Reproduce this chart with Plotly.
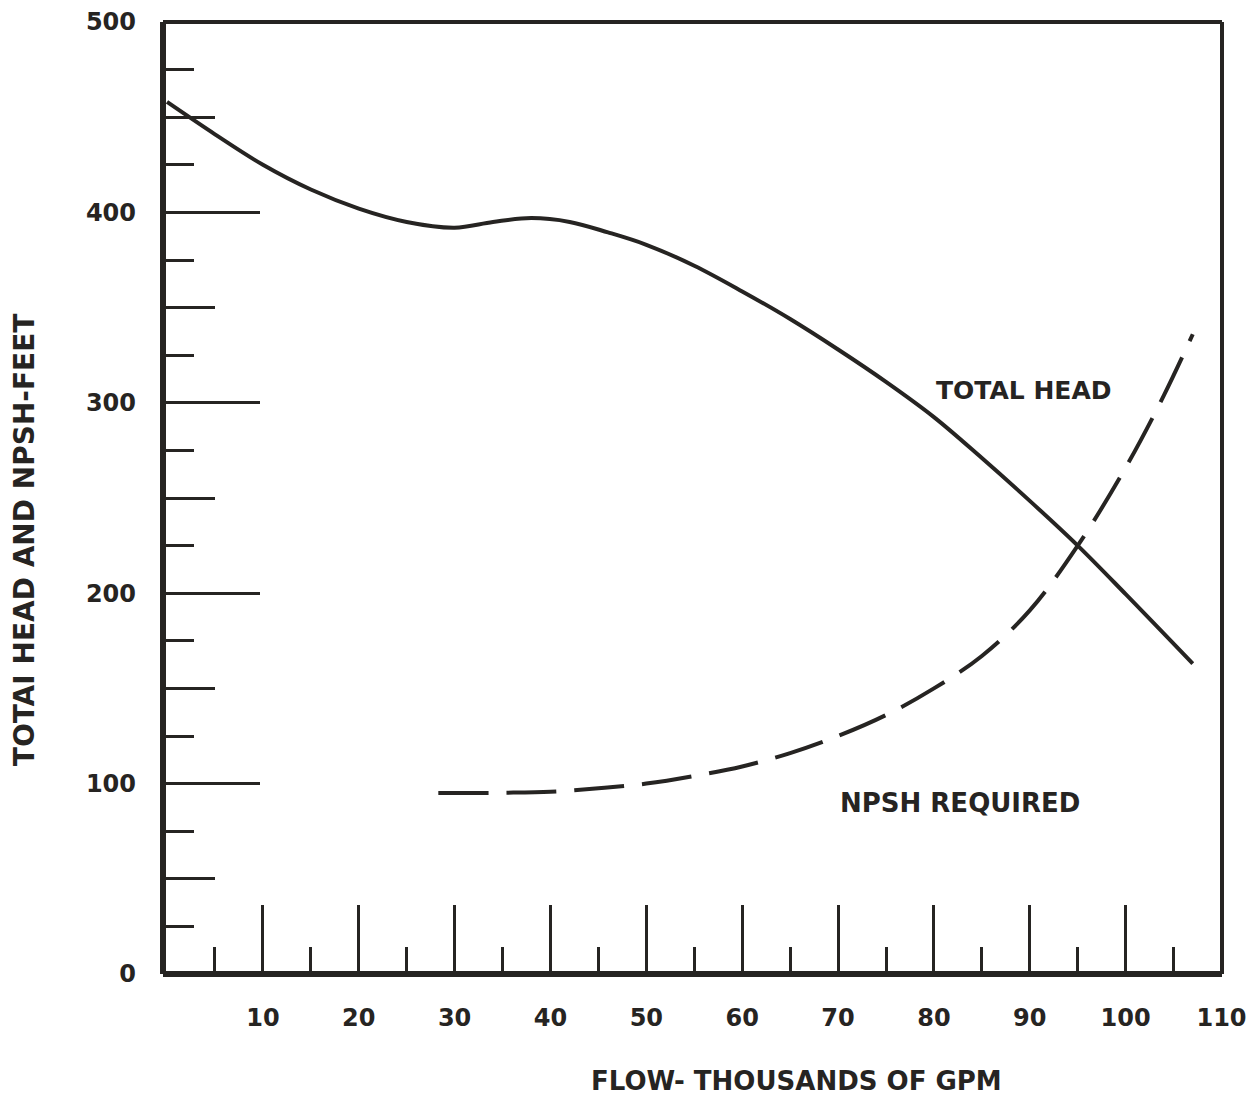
import plotly.graph_objects as go

# ---- data ----
head_flow = [0, 5, 10, 15, 20, 25, 30, 34, 38, 42, 46, 50, 55, 60, 65, 70, 75, 80, 85, 90, 95, 100, 107]
head_ft = [458, 441, 425, 412, 402, 395, 392, 395, 397, 395, 389.5, 383, 372, 358.5, 344, 328, 311, 292.5, 271, 248.5, 225, 199.5, 163]

npsh_flow = [28.3, 35, 40, 45, 50, 55, 60, 65, 70, 75, 80, 85, 90, 95, 100, 104, 107]
npsh_ft = [95, 95.2, 95.7, 97.5, 100, 104, 109, 116, 125, 136, 150, 167, 191, 225, 266, 304, 336]

x_major = [10, 20, 30, 40, 50, 60, 70, 80, 90, 100, 110]
x_labels = ["10", "20", "30", "40", "50", "60", "70", "80", "90", "100", "110"]
y_major = [0, 100, 200, 300, 400, 500]
y_labels = ["0", "100", "200", "300", "400", "500"]
y_mid = [50, 150, 250, 350, 450]

x_title = "FLOW- THOUSANDS OF GPM"
y_title = "TOTAI HEAD AND NPSH-FEET"
head_label = "TOTAL HEAD"
npsh_label = "NPSH REQUIRED"

INK = "#262422"
FONT = "DejaVu Sans"

fig = go.Figure()
fig.add_trace(go.Scatter(x=head_flow, y=head_ft, mode="lines",
                         line=dict(color=INK, width=4, shape="spline", smoothing=1.0),
                         hoverinfo="skip"))
fig.add_trace(go.Scatter(x=npsh_flow, y=npsh_ft, mode="lines",
                         line=dict(color=INK, width=4, shape="spline", smoothing=1.0, dash="50px,18px"),
                         hoverinfo="skip"))
# empty trace to activate the secondary (medium-tick) y axis
fig.add_trace(go.Scatter(x=[None], y=[None], yaxis="y2", hoverinfo="skip", showlegend=False))

fig.add_annotation(x=89.4, y=306.5, text=head_label, showarrow=False,
                   font=dict(family=FONT, size=25, color=INK, weight="bold"))
fig.add_annotation(x=82.7, y=90, text=npsh_label, showarrow=False,
                   font=dict(family=FONT, size=26, color=INK, weight="bold"))
fig.add_annotation(xref="paper", yref="paper", x=0.598, y=-0.112, text=x_title, showarrow=False,
                   yanchor="middle", font=dict(family=FONT, size=26, color=INK, weight="bold"))
fig.add_annotation(xref="paper", yref="paper", x=-0.130, y=0.456, text=y_title, showarrow=False,
                   textangle=-90, xanchor="center", yanchor="middle",
                   font=dict(family=FONT, size=28, color=INK, weight="bold"))

# frame
fig.add_shape(type="line", xref="paper", yref="paper", x0=0, x1=0, y0=0, y1=1, line=dict(color=INK, width=6), layer="above")
fig.add_shape(type="line", xref="paper", yref="paper", x0=0, x1=1, y0=0, y1=0, line=dict(color=INK, width=6), layer="above")
fig.add_shape(type="line", xref="paper", yref="paper", x0=0, x1=1, y0=1, y1=1, line=dict(color=INK, width=4), layer="above")
fig.add_shape(type="line", xref="paper", yref="paper", x0=1, x1=1, y0=0, y1=1, line=dict(color=INK, width=4), layer="above")

tickfont = dict(family=FONT, size=24, color=INK, weight="bold")

fig.update_layout(
    width=1250, height=1090,
    margin=dict(l=155, r=36, t=14, b=124),
    paper_bgcolor="white", plot_bgcolor="white",
    showlegend=False,
    xaxis=dict(range=[-0.42, 110.05], tickmode="array", tickvals=x_major, ticktext=x_labels,
               ticks="inside", ticklen=69, tickwidth=3, tickcolor=INK, automargin=False,
               minor=dict(dtick=10, tick0=5, ticks="inside", ticklen=27, tickwidth=3, tickcolor=INK, showgrid=False),
               showgrid=False, zeroline=False, showline=False, tickfont=tickfont, ticklabelstandoff=27),
    yaxis=dict(range=[0, 500], tickmode="array", tickvals=y_major, ticktext=y_labels,
               ticks="inside", ticklen=97, tickwidth=3, tickcolor=INK, automargin=False,
               minor=dict(dtick=25, tick0=0, ticks="inside", ticklen=31, tickwidth=3, tickcolor=INK, showgrid=False),
               showgrid=False, zeroline=False, showline=False, tickfont=tickfont, ticklabelstandoff=26),
    yaxis2=dict(range=[0, 500], overlaying="y", side="left", tickmode="array", tickvals=y_mid,
                ticks="inside", ticklen=52, tickwidth=3, tickcolor=INK, showticklabels=False, automargin=False,
                showgrid=False, zeroline=False, showline=False),
)

fig.write_html("out.html")
